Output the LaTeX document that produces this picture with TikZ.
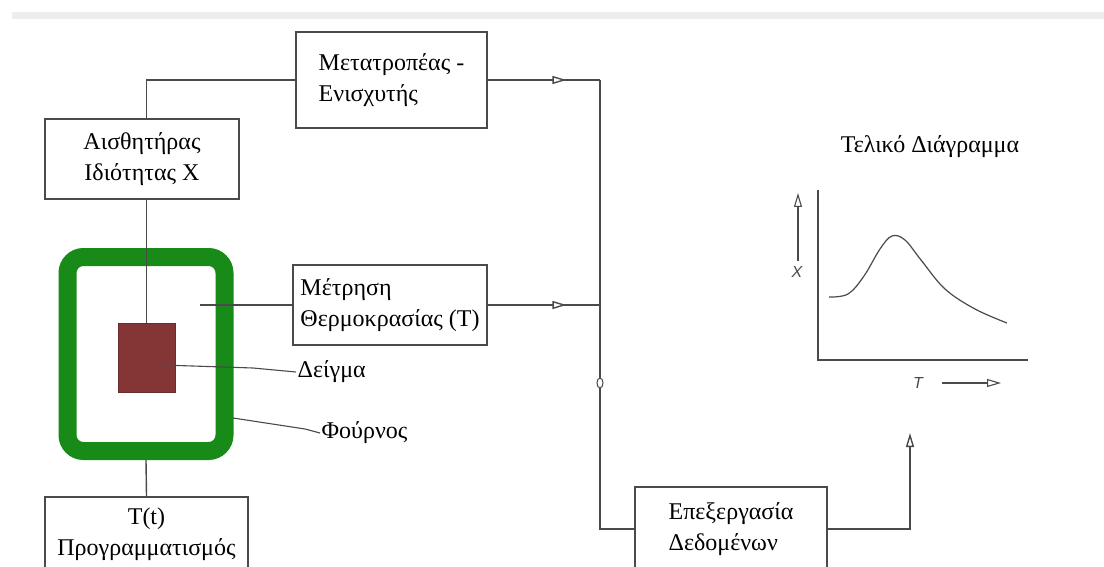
\documentclass[tikz,border=0pt]{standalone}
\usepackage{fontspec}
\setmainfont{Liberation Serif}
\setsansfont{Liberation Sans}
\usetikzlibrary{arrows.meta, shapes.geometric, decorations.markings}
\definecolor{cgreen}{HTML}{178A17}
\definecolor{csample}{HTML}{843636}
\definecolor{cline}{HTML}{4A4A4A}
\definecolor{cbar}{HTML}{EDEDED}
\tikzset{
  every picture/.style={line width=1.4pt},
  box/.style={draw=cline, line width=1.8pt, fill=white, inner sep=4pt, font=\fontsize{24}{31}\selectfont},
  wire/.style={draw=cline, line width=1.4pt},
  tip/.style={-{Triangle[open, fill=white, length=14pt, width=8pt]}},
  midtip/.style={postaction=decorate, decoration={markings, mark=at position #1 with {\arrow{Triangle[open, fill=white, length=14pt, width=8pt]}}}},
  lbl/.style={font=\fontsize{24}{31}\selectfont, inner sep=1pt},
  axlbl/.style={font=\sffamily\itshape\fontsize{16}{18}\selectfont, text=cline, inner sep=1pt},
}

\begin{document}
\begin{tikzpicture}[x=1pt, y=-1pt]
  \fill[white] (0,0) rectangle (1104,567);
  \useasboundingbox (0,0) rectangle (1104,567);
  \fill[cbar] (12,12) rectangle (1104,19);
  % oven and sample
  \node[draw=cgreen, line width=18pt, rounded corners=16pt, minimum width=157pt, minimum height=194pt] (oven) at (146,354) {};
  \node[fill=csample, draw=csample!80!black, line width=0.8pt, minimum width=57pt, minimum height=69pt] (sample) at (146.5,357.5) {};
  % boxes
  \node[box, minimum width=191pt, minimum height=96pt, align=left] (conv) at (391.5,80) {Μετατροπέας -\\Ενισχυτής};
  \node[box, minimum width=194pt, minimum height=80pt, align=center] (sens) at (142,159) {Αισθητήρας\\Ιδιότητας X};
  \node[box, minimum width=194pt, minimum height=80pt, align=left] (meas) at (390,305) {Μέτρηση\\Θερμοκρασίας (T)};
  \node[box, minimum width=203pt, minimum height=74pt, align=center] (prog) at (146.5,534) {T(t)\\Προγραμματισμός};
  \node[box, minimum width=192pt, minimum height=84pt, align=left] (proc) at (731,529) {Επεξεργασία\\Δεδομένων};
  \node[lbl, anchor=west] (lblsample) at (296,372) {Δείγμα};
  \node[lbl, anchor=west] (lbloven) at (320,433) {Φούρνος};
  \coordinate (bus) at (600,79);
  \coordinate (probe) at (200,305);
  \coordinate (core) at (162,365);
  \coordinate (ovenr) at (233,418);
  \coordinate (out) at (910,433);
  % connectors
  \draw[wire] (sample.north) -- (sample.north |- sens.south);
  \draw[wire] (sens.north -| sample) |- (conv.west);
  \draw[wire] (probe) -- (meas.west);
  \draw[wire] (oven.south) -- (prog.north);
  \draw[wire, line width=1.1pt] (core) -- (253,368) -- (lblsample.west);
  \draw[wire, line width=1.1pt] (ovenr) -- (305,429) -- (lbloven.west);
  \draw[wire, midtip=0.7] (conv.east) -- (conv.east -| bus);
  \draw[wire, midtip=0.7] (meas.east) -- (meas.east -| bus);
  \draw[wire] (conv.east -| bus) -- (bus |- proc.west) -- (proc.west);
  \node[draw=cline, fill=white, ellipse, line width=1pt, inner sep=0pt, minimum width=6pt, minimum height=10pt] (knot) at (600,383) {};
  \draw[wire, tip] (proc.east) -| (out);
  % final diagram
  \node[lbl] (gtitle) at (930,147) {Τελικό Διάγραμμα};
  \draw[draw=cline, line width=1.8pt] (818,190) -- (818,360) -- (1028,360);
  \draw[wire, line width=1.2pt] plot[smooth, tension=0.6] coordinates {(829,297) (848,294) (864,276) (880,249) (892,236) (905,240) (921,260) (945,289) (975,309) (1007,323)};
  \node[axlbl] (xlbl) at (797,272) {X};
  \node[axlbl] (tlbl) at (918,383) {T};
  \coordinate (xtip) at (798,193);
  \coordinate (ttip) at (1001,383);
  \draw[wire, line width=1.1pt, tip] (xlbl.north -| xtip) ++(0,-4) -- (xtip);
  \draw[wire, line width=1.1pt, tip] (tlbl.east -| 942,0) -- (ttip);
\end{tikzpicture}
\end{document}
